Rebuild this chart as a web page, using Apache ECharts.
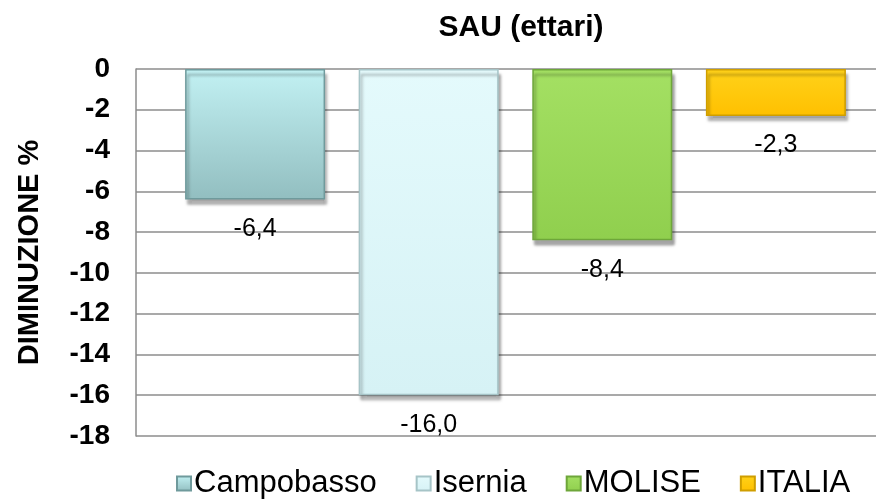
<!DOCTYPE html>
<html>
<head>
<meta charset="utf-8">
<script src="https://cdn.jsdelivr.net/npm/echarts@6/dist/echarts.min.js"></script>
<style>
  html, body { margin: 0; padding: 0; background: #fff; }
  #chart { width: 876px; height: 499px; }
</style>
</head>
<body>
<div id="chart"></div>
<script>
// dati
const categories = ['SAU (ettari)']
const seriesNames = ['Campobasso', 'Isernia', 'MOLISE', 'ITALIA']
const values = [-6.4, -16.0, -8.4, -2.3]
const yMin = -18
const yMax = 0
const yStep = 2

// colori: [alto, basso, bordo]
const palette = [
  ['#c2f1f3', '#92bec0', '#6f9a9c'],
  ['#e4fafc', '#d6f2f5', '#a6c4c7'],
  ['#a4e063', '#90cf4e', '#6ea63a'],
  ['#ffd21a', '#ffc000', '#cf9e00']
]

const chart = echarts.init(document.getElementById('chart'))

function fmt(v) {
  return v.toFixed(1).replace('.', ',')
}

const series = seriesNames.map(function (name, i) {
  const c = palette[i]
  return {
    name: name,
    type: 'bar',
    data: [values[i]],
    barWidth: 140,
    barGap: '24%',
    itemStyle: {
      color: new echarts.graphic.LinearGradient(0, 0, 0, 1, [
        { offset: 0, color: c[0] },
        { offset: 1, color: c[1] }
      ]),
      borderColor: c[2],
      borderWidth: 1.5,
      shadowColor: 'rgba(0,0,0,0.35)',
      shadowBlur: 3,
      shadowOffsetX: 2,
      shadowOffsetY: 5
    },
    label: {
      show: true,
      position: 'bottom',
      distance: 17,
      color: '#000',
      fontFamily: 'Liberation Sans, Arial, sans-serif',
      fontSize: 25,
      formatter: function (p) { return fmt(p.value) }
    },
    emphasis: { disabled: true }
  }
})

chart.setOption({
  animation: false,
  textStyle: { fontFamily: 'Liberation Sans, Arial, sans-serif' },
  title: {
    text: 'SAU (ettari)',
    left: 516,
    textAlign: 'center',
    top: 8,
    textStyle: { fontSize: 30, fontWeight: 'bold', color: '#000' }
  },
  legend: {
    data: seriesNames,
    left: 171,
    top: 463,
    itemWidth: 14,
    itemHeight: 14,
    itemGap: 39,
    icon: 'rect',
    textStyle: { fontSize: 31, color: '#000', padding: [0, 0, 0, -2] }
  },
  // l'area del grafico esce a destra oltre il bordo, come nell'originale
  grid: { left: 136, right: -19, top: 69, bottom: 63, outerBoundsMode: 'none' },
  xAxis: {
    type: 'category',
    data: categories,
    axisLine: { show: false },
    axisTick: { show: false },
    axisLabel: { show: false }
  },
  yAxis: {
    type: 'value',
    min: yMin,
    max: yMax,
    interval: yStep,
    name: 'DIMINUZIONE %',
    nameLocation: 'middle',
    nameRotate: 90,
    nameGap: 92,
    nameTextStyle: { fontSize: 29, fontWeight: 'bold', color: '#000' },
    axisLine: { show: true, lineStyle: { color: '#8c8c8c', width: 1.5 } },
    axisTick: { show: false },
    axisLabel: { color: '#000', fontSize: 28, fontWeight: 'bold', margin: 26 },
    splitLine: { lineStyle: { color: '#8c8c8c', width: 1.5 } }
  },
  series: series
})
</script>
</body>
</html>
